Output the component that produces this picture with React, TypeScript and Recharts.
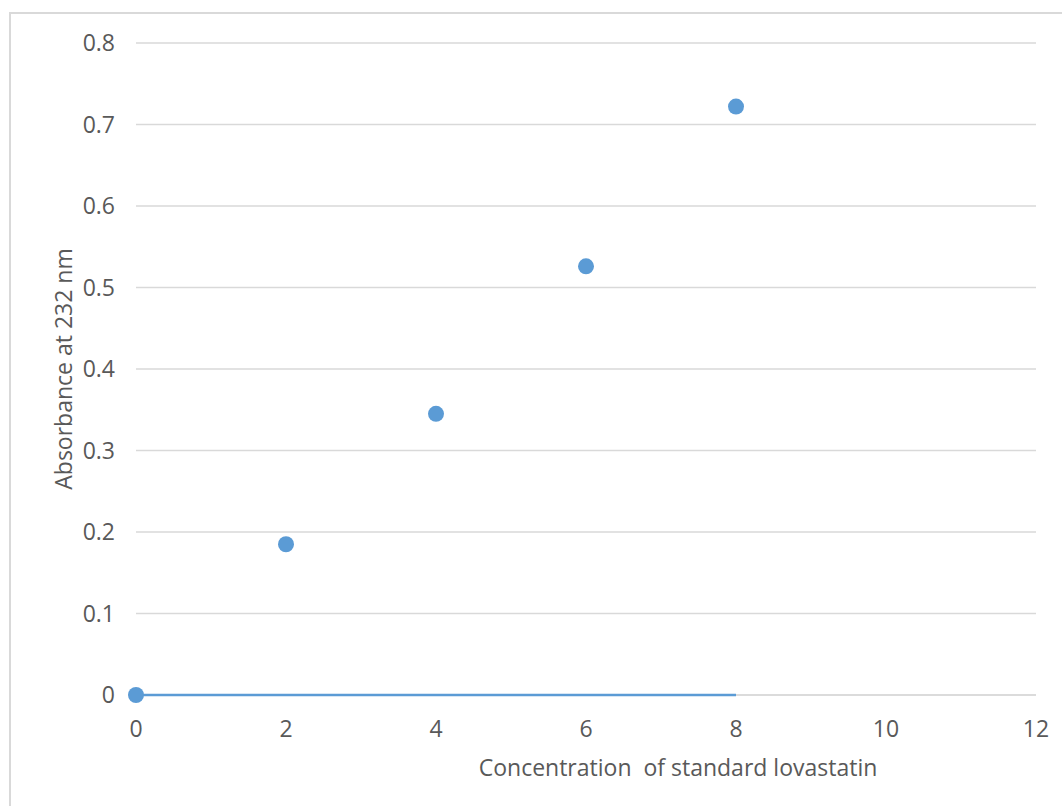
import React from 'react';
import { ScatterChart, Scatter, XAxis, YAxis, CartesianGrid } from 'recharts';

// standard curve readings
const concentrations = [0, 2, 4, 6, 8];
const absorbance = [0, 0.185, 0.345, 0.526, 0.722];

// blue line drawn along the baseline
const baselineX = [0, 8];
const baselineY = [0, 0];

const xTicks = [0, 2, 4, 6, 8, 10, 12];
const yTicks = [0, 0.1, 0.2, 0.3, 0.4, 0.5, 0.6, 0.7, 0.8];

const points = concentrations.map((x, i) => ({ x, y: absorbance[i] }));
const baseline = baselineX.map((x, i) => ({ x, y: baselineY[i] }));

const BLUE = '#5B9BD5';
const GRID = '#d9d9d9';
const TEXT = '#595959';
const FONT = '"Open Sans", sans-serif';
const SIZE = 23;

const Dot = (props: any) => {
  const { cx, cy } = props;
  if (cx == null || cy == null) return null;
  return <circle cx={cx} cy={cy} r={8} fill={BLUE} />;
};

export default function App() {
  return (
    <div style={{ position: 'fixed', left: 0, top: 0, width: 1062, height: 806, overflow: 'hidden', background: '#fff' }}>
      <div style={{ position: 'absolute', left: 9, top: 12, width: 1100, height: 900, border: `2px solid ${GRID}` }} />
      <div style={{ position: 'absolute', left: 0, top: 0 }}>
        <ScatterChart width={1062} height={806} margin={{ top: 43, right: 26, left: 0, bottom: 26 }}>
          <CartesianGrid vertical={false} stroke={GRID} strokeWidth={1.5} />
          <XAxis
            type="number"
            dataKey="x"
            domain={[0, 12]}
            ticks={xTicks}
            height={85}
            tickLine={false}
            tickSize={8}
            tickMargin={18}
            axisLine={{ stroke: GRID, strokeWidth: 1.5 }}
            tick={{ fill: TEXT, fontSize: SIZE, fontFamily: FONT }}
            label={{ value: 'Concentration\u00a0 of standard lovastatin', position: 'center', dx: 92, dy: 30, fill: TEXT, fontSize: SIZE, fontFamily: FONT }}
          />
          <YAxis
            type="number"
            dataKey="y"
            domain={[0, 0.8]}
            ticks={yTicks}
            width={136}
            tickLine={false}
            axisLine={false}
            tickSize={8}
            tickMargin={13}
            tick={{ fill: TEXT, fontSize: SIZE, fontFamily: FONT }}
            label={{ value: 'Absorbance at 232 nm', angle: -90, position: 'center', dx: -4, fill: TEXT, fontSize: SIZE, fontFamily: FONT }}
          />
          <Scatter data={baseline} line={{ stroke: BLUE, strokeWidth: 2.5 }} shape={() => null} isAnimationActive={false} />
          <Scatter data={points} fill={BLUE} shape={Dot} isAnimationActive={false} />
        </ScatterChart>
      </div>
    </div>
  );
}
